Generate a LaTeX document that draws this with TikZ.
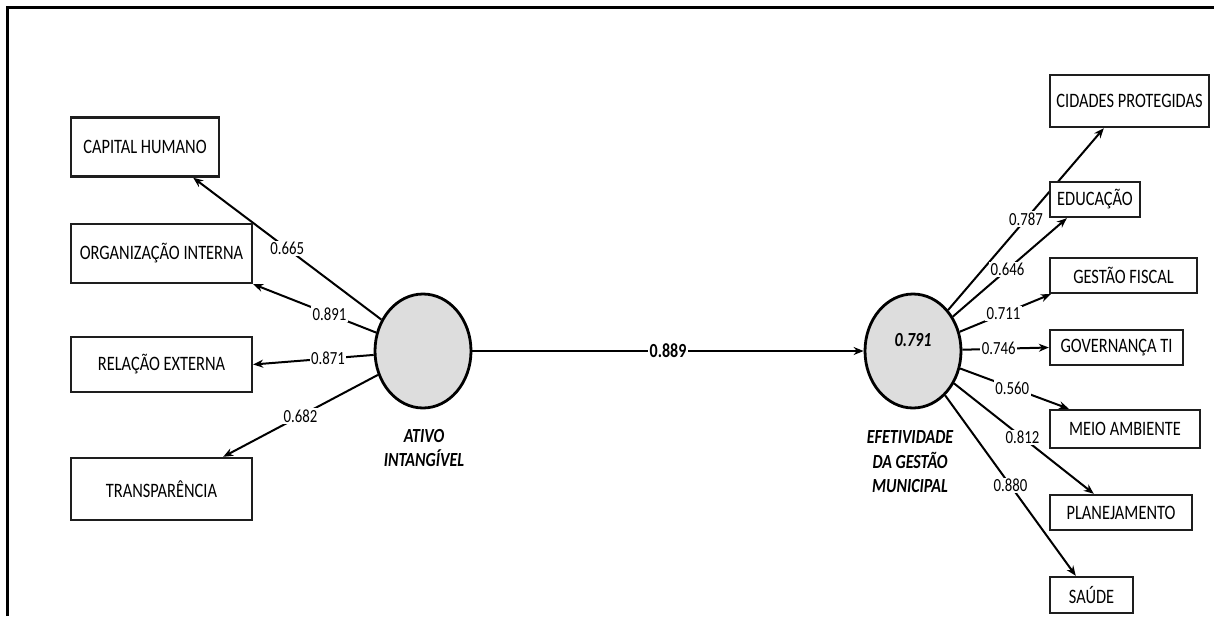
\documentclass[tikz,border=0pt]{standalone}
\usepackage{fontspec}
\setmainfont{Carlito}[FakeStretch=0.8]
\usetikzlibrary{shapes.geometric, arrows.meta}
\definecolor{lvfill}{RGB}{221,221,221}
\definecolor{boxline}{RGB}{30,30,30}
\pgfdeclarelayer{background}
\pgfsetlayers{background,main}

\begin{document}
\begin{tikzpicture}[x=1pt, y=-1pt,
	ind/.style={draw=boxline, line width=2.4pt, fill=white, inner sep=0pt, font=\fontsize{20.5}{22}\selectfont},
	lv/.style={ellipse, draw, line width=2.8pt, fill=lvfill, minimum width=96pt, minimum height=114pt, inner sep=0pt},
	ld/.style={line width=2pt, -{Stealth[length=10pt, width=8pt]}},
	w/.style={fill=white, inner sep=1.5pt, font=\fontsize{18.5}{20}\selectfont},
	lvname/.style={align=center, font=\fontsize{20}{24.5}\selectfont\bfseries\itshape}]
	\useasboundingbox (0,0) rectangle (1214,616);
	\draw[line width=3pt, line join=miter] (7,616) -- (7,7) -- (1214,7);

	% latent variables
	\node[lv] (ai) at (423,351) {};
	\node[lv] (eg) at (913,351) {};
	\node[lvname] (ainame) at (424,448) {ATIVO\\INTANGÍVEL};
	\node[lvname] (egname) at (910,462) {EFETIVIDADE\\DA GESTÃO\\MUNICIPAL};
	\node[font=\fontsize{20}{22}\selectfont\bfseries\itshape] (egr2) at ([yshift=11pt]eg.center) {0.791};

	% indicators of ativo intangivel
	\node[ind, minimum width=148pt, minimum height=59pt] (ch) at (145,147) {CAPITAL HUMANO};
	\node[ind, minimum width=181pt, minimum height=59pt] (oi) at (161.5,253.5) {ORGANIZAÇÃO INTERNA};
	\node[ind, minimum width=181pt, minimum height=55pt] (re) at (161.5,364.5) {RELAÇÃO EXTERNA};
	\node[ind, minimum width=181pt, minimum height=62pt] (tr) at (161.5,489) {TRANSPARÊNCIA};

	% indicators of efetividade
	\node[ind, minimum width=159pt, minimum height=52pt] (cp) at (1129.5,101) {CIDADES PROTEGIDAS};
	\node[ind, minimum width=90pt, minimum height=35pt] (ed) at (1095,199.5) {EDUCAÇÃO};
	\node[ind, minimum width=147pt, minimum height=35pt] (gf) at (1123.5,275.5) {GESTÃO FISCAL};
	\node[ind, minimum width=133pt, minimum height=35pt] (gt) at (1116.5,347.5) {GOVERNANÇA TI};
	\node[ind, minimum width=150pt, minimum height=38pt] (ma) at (1125,429) {MEIO AMBIENTE};
	\node[ind, minimum width=142pt, minimum height=35pt] (pl) at (1121,512.5) {PLANEJAMENTO};
	\node[ind, minimum width=83pt, minimum height=36pt] (sa) at (1091.5,595) {SAÚDE};

	\begin{pgfonlayer}{background}
		\draw[ld] (ai) -- node[w] {0.665} ([xshift=-27pt]ch.south east);
		\draw[ld] (ai) -- node[w, pos=.38] {0.891} (oi.south east);
		\draw[ld] (ai) -- node[w, pos=.38] {0.871} (re.east);
		\draw[ld] (ai) -- node[w] {0.682} ([xshift=-30pt]tr.north east);

		\draw[ld] (ai) -- node[w, font=\fontsize{20}{22}\selectfont\bfseries] {0.889} (eg);

		\draw[ld] (eg) -- node[w] {0.787} ([xshift=55pt]cp.south west);
		\draw[ld] (eg) -- node[w, pos=.48] {0.646} ([xshift=18pt]ed.south west);
		\draw[ld] (eg) -- node[w, pos=.48] {0.711} ([xshift=2pt]gf.south west);
		\draw[ld] (eg) -- node[w, pos=.42] {0.746} (gt.west);
		\draw[ld] (eg) -- node[w, pos=.48] {0.560} ([xshift=20pt]ma.north west);
		\draw[ld] (eg) -- node[w, pos=.49] {0.812} ([xshift=45pt]pl.north west);
		\draw[ld] (eg) -- node[w] {0.880} ([xshift=27pt]sa.north west);
	\end{pgfonlayer}
\end{tikzpicture}
\end{document}
